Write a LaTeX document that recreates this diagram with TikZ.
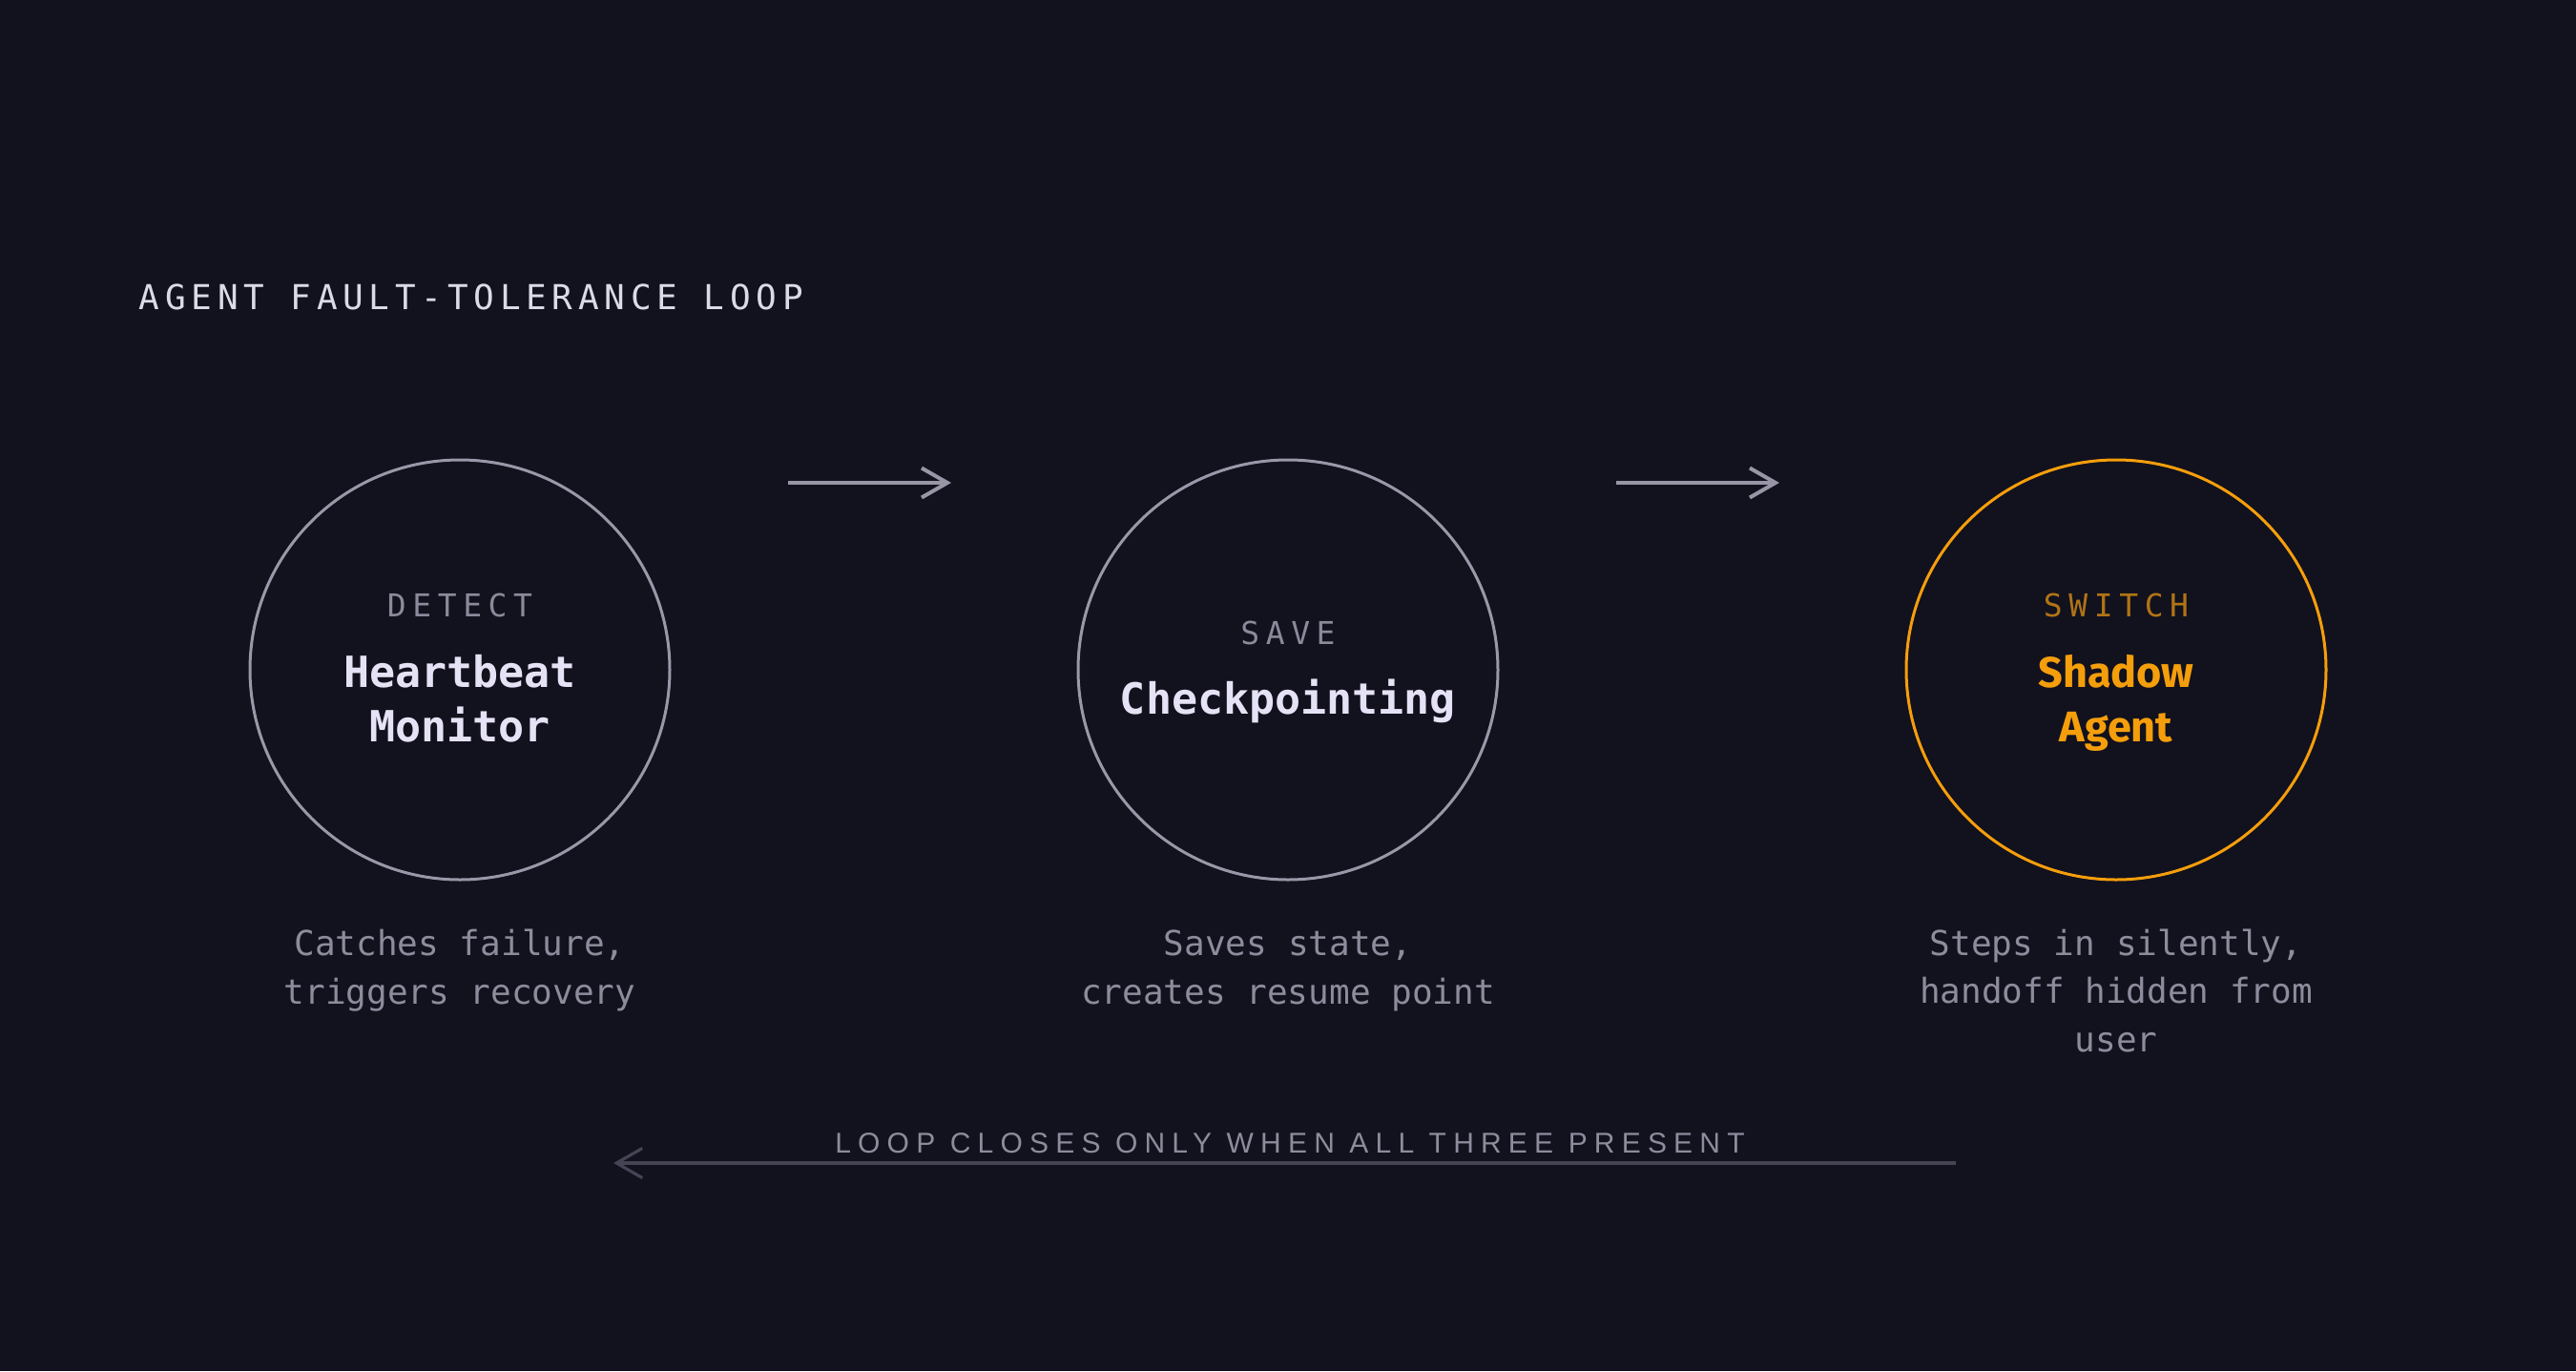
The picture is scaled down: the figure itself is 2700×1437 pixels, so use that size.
\documentclass[tikz,border=0pt]{standalone}
\usepackage{fontspec}
\setmonofont{DejaVu Sans Mono}
\newfontfamily\notefont{Liberation Sans}
\newfontfamily\hotfont{Fira Sans}
\usetikzlibrary{arrows.meta}

\definecolor{bg}{HTML}{12111E}
\definecolor{titletext}{HTML}{DCDAE8}
\definecolor{ring1}{HTML}{9A98A8}
\definecolor{ring2}{HTML}{9A98A8}
\definecolor{ring3}{HTML}{F59E0B}
\definecolor{tag1}{HTML}{8B899A}
\definecolor{tag2}{HTML}{8B899A}
\definecolor{tag3}{HTML}{B07415}
\definecolor{name1}{HTML}{E6E2F5}
\definecolor{name2}{HTML}{E6E2F5}
\definecolor{name3}{HTML}{F59E0B}
\definecolor{desctext}{HTML}{8E8C9C}
\definecolor{flowline}{HTML}{9896A6}
\definecolor{backline}{HTML}{454354}

\newcommand{\plainname}{\ttfamily\bfseries}
\newcommand{\hotname}{\hotfont\bfseries}

\tikzstyle{title}=[anchor=base west,inner sep=0pt,text=titletext,font={\ttfamily\fontsize{9pt}{11pt}\selectfont\addfontfeature{LetterSpace=16}}]
\tikzstyle{ring}=[circle,minimum size=110pt,inner sep=0pt,line width=0.75pt]
\tikzstyle{tag}=[anchor=base,inner sep=0pt,font={\ttfamily\fontsize{8.25pt}{10pt}\selectfont\addfontfeature{LetterSpace=20}}]
\tikzstyle{stagename}=[anchor=base,inner sep=0pt,align=center]
\tikzstyle{desc}=[anchor=base,inner sep=0pt,align=center,text=desctext,font={\ttfamily\fontsize{9pt}{12.6pt}\selectfont}]
\tikzstyle{note}=[anchor=base,inner sep=0pt,text=desctext,font={\notefont\fontsize{7.5pt}{9pt}\selectfont\addfontfeature{LetterSpace=24}}]

\begin{document}
\begin{tikzpicture}[x=0.25pt,y=-0.25pt]
			\fill[bg] (0,0) rectangle (2700,1437);
			\begin{scope}[>={Straight Barb[length=6.75pt,width=7.75pt]}]
				\newcommand{\stagegap}{868}
				\node (T)[title] at (145,324) {AGENT FAULT-TOLERANCE LOOP};
				% base of a multi-line node is its last line
				\foreach \nr/\tagtxt/\tagy/\nametxt/\namey/\nf/\desctxt/\descy in {
					1/DETECT/646/{Heartbeat\\Monitor}/777/\plainname/{Catches failure,\\triggers recovery}/1052,
					2/SAVE/675/{Checkpointing}/748/\plainname/{Saves state,\\creates resume point}/1052,
					3/SWITCH/646/{Shadow\\Agent}/777/\hotname/{Steps in silently,\\handoff hidden from\\user}/1102}{
					\node (C\nr)[ring,draw=ring\nr] at ({482+(\nr-1)*\stagegap},702) {};
					\node (L\nr)[tag,text=tag\nr] at ({482+(\nr-1)*\stagegap},\tagy) {\tagtxt};
					\node (N\nr)[stagename,text=name\nr,font={\nf\fontsize{11.25pt}{14.25pt}\selectfont}] at ({482+(\nr-1)*\stagegap},\namey) {\nametxt};
					\node (D\nr)[desc] at ({482+(\nr-1)*\stagegap},\descy) {\desctxt};
				}
				\foreach \nr in {1,2}{
					\coordinate (S\nr) at ({826+(\nr-1)*\stagegap},506);
					\coordinate (E\nr) at ({997+(\nr-1)*\stagegap},506);
					\draw[->,line width=1pt,flowline] (S\nr) -- (E\nr);
				}
				\coordinate (RS) at (2050,1219);
				\coordinate (RE) at (643,1219);
				\draw[->,line width=0.8pt,backline] (RS) -- (RE);
				\node (R)[note] at (1352,1208) {LOOP CLOSES ONLY WHEN ALL THREE PRESENT};
			\end{scope}
\end{tikzpicture}
\end{document}
